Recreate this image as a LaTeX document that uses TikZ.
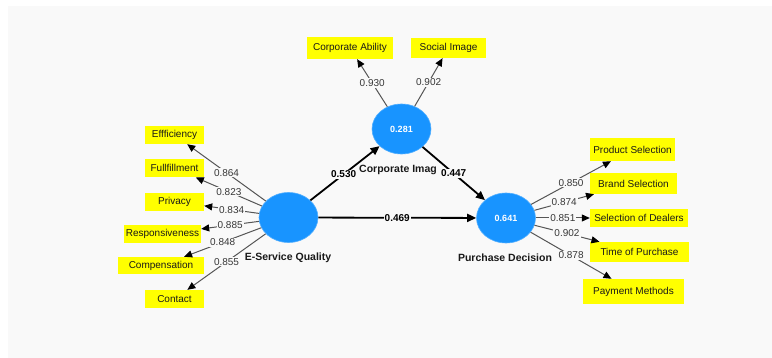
\documentclass[tikz,border=0pt]{standalone}
\usepackage{fontspec}
\setmainfont{Liberation Sans}
\usetikzlibrary{arrows.meta,shapes.geometric}
\definecolor{panel}{RGB}{249,249,249}
\definecolor{lvblue}{RGB}{24,148,255}
\definecolor{indyellow}{RGB}{255,255,0}
\definecolor{ldline}{RGB}{85,85,85}
\definecolor{ldtext}{RGB}{55,55,55}

\begin{document}
\begin{tikzpicture}[x=1pt,y=-1pt,
  latent/.style={ellipse,fill=lvblue,draw=lvblue!75!white,line width=0.6pt,inner sep=0pt,
    minimum width=59pt,minimum height=50pt,text=white,font=\fontsize{9}{11}\selectfont\bfseries},
  indicator/.style={rectangle,fill=indyellow,inner sep=0pt,text=black!90,
    font=\fontsize{10}{12}\selectfont},
  lvname/.style={inner sep=0pt,text=black!90,font=\fontsize{10.5}{12}\selectfont\bfseries},
  loading/.style={draw=ldline,line width=1pt,
    -{Triangle[length=8pt,width=7pt,color=black]}},
  ldlabel/.style={fill=panel,inner sep=1pt,text=ldtext,font=\fontsize{10}{12}\selectfont},
  structural/.style={draw=black,line width=1.8pt,
    -{Triangle[length=9pt,width=8pt,color=black]}},
  coeflabel/.style={fill=panel,inner sep=1pt,text=black,font=\fontsize{10}{12}\selectfont\bfseries}
]
% canvas
\useasboundingbox (0,0) rectangle (772,358);
\fill[white] (0,0) rectangle (772,358);
\fill[panel] (8,6) rectangle (772,358);

% latent variables
\node[latent] (esq) at (288.5,217.5) {};
\node[latent] (ci)  at (401.5,129) {0.281};
\node[latent] (pd)  at (506,218) {0.641};

\node[lvname] (esqname) at (288,258) {E-Service Quality};
\node[lvname] (ciname)  at (398,170) {Corporate Imag};
\node[lvname] (pdname)  at (505,258) {Purchase Decision};

% indicators of E-Service Quality
\node[indicator,minimum width=59pt,minimum height=18pt] (eff) at (174.5,135)   {Effficiency};
\node[indicator,minimum width=59pt,minimum height=18pt] (ful) at (174.5,168.3) {Fullfillment};
\node[indicator,minimum width=59pt,minimum height=18pt] (pri) at (174.5,201.7) {Privacy};
\node[indicator,minimum width=77pt,minimum height=18pt] (res) at (162.5,234)   {Responsiveness};
\node[indicator,minimum width=86pt,minimum height=17pt] (com) at (161,265.5)   {Compensation};
\node[indicator,minimum width=59pt,minimum height=18pt] (con) at (174.5,299)   {Contact};

% indicators of Corporate Image
\node[indicator,minimum width=86pt,minimum height=22pt] (cab) at (350,48)   {Corporate Ability};
\node[indicator,minimum width=75pt,minimum height=20pt] (sim) at (448.5,48) {Social Image};

% indicators of Purchase Decision
\node[indicator,minimum width=85pt,minimum height=23pt]  (psel) at (632.5,149.5) {Product Selection};
\node[indicator,minimum width=87pt,minimum height=21pt]  (bsel) at (633.5,183.5) {Brand Selection};
\node[indicator,minimum width=98pt,minimum height=18pt]  (dsel) at (639,218)     {Selection of Dealers};
\node[indicator,minimum width=99pt,minimum height=20pt]  (tpur) at (639.5,252)   {Time of Purchase};
\node[indicator,minimum width=101pt,minimum height=25pt] (pmet) at (633.5,291.5) {Payment Methods};

% outer loadings
\draw[loading] (esq) -- node[ldlabel] (l1) {0.864} (eff);
\draw[loading] (esq) -- node[ldlabel] (l2) {0.823} (ful);
\draw[loading] (esq) -- node[ldlabel] (l3) {0.834} (pri);
\draw[loading] (esq) -- node[ldlabel] (l4) {0.885} (res);
\draw[loading] (esq) -- node[ldlabel] (l5) {0.848} (com);
\draw[loading] (esq) -- node[ldlabel] (l6) {0.855} (con);

\draw[loading] (ci) -- node[ldlabel] (l7) {0.930} (cab);
\draw[loading] (ci) -- node[ldlabel] (l8) {0.902} (sim);

\draw[loading] (pd) -- node[ldlabel] (l9)  {0.850} (psel);
\draw[loading] (pd) -- node[ldlabel] (l10) {0.874} (bsel);
\draw[loading] (pd) -- node[ldlabel] (l11) {0.851} (dsel);
\draw[loading] (pd) -- node[ldlabel] (l12) {0.902} (tpur);
\draw[loading] (pd) -- node[ldlabel] (l13) {0.878} (pmet);

% structural paths
\draw[structural] (esq) -- node[coeflabel,pos=0.48] (p1) {0.530} (ci);
\draw[structural] (ci)  -- node[coeflabel,pos=0.5]  (p2) {0.447} (pd);
\draw[structural] (esq) -- node[coeflabel,pos=0.5]  (p3) {0.469} (pd);
\end{tikzpicture}
\end{document}
